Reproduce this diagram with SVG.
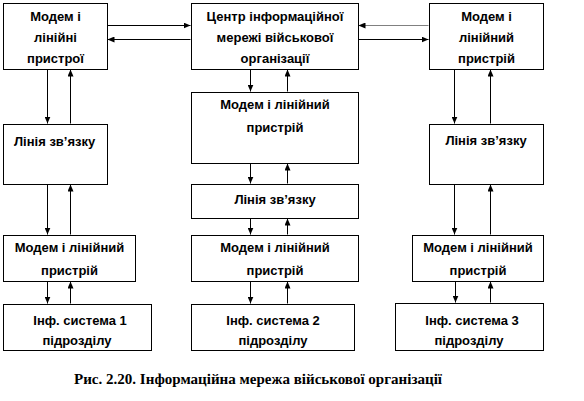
<svg xmlns="http://www.w3.org/2000/svg" width="584" height="401" viewBox="0 0 584 401">
<style>
.box{fill:#fff;stroke:#000;stroke-width:1}
.t{font-family:"Liberation Sans",Arial,sans-serif;font-weight:bold;font-size:13px;fill:#000;text-anchor:middle}
.tl{text-anchor:start}
.c{stroke:#000;stroke-width:1;fill:none}
.g{stroke:#808080}
.cap{font-family:"Liberation Serif","Times New Roman",serif;font-weight:bold;font-size:14px;fill:#000}
</style>
<defs>
<marker id="ah" viewBox="0 0 7 6" refX="7" refY="3" markerWidth="7" markerHeight="6" markerUnits="userSpaceOnUse" orient="auto">
<path d="M0,0 L7,3 L0,6 z" fill="#000"/>
</marker>
</defs>
<rect width="584" height="401" fill="#fff"/>
<g id="connectors">
<line class="c" x1="107.5" y1="25.5" x2="190.5" y2="25.5" marker-end="url(#ah)"/>
<line class="c" x1="190.5" y1="39.5" x2="107.5" y2="39.5" marker-end="url(#ah)"/>
<line class="c g" x1="428.5" y1="25.5" x2="358.5" y2="25.5" marker-end="url(#ah)"/>
<line class="c" x1="358.5" y1="39.5" x2="428.5" y2="39.5" marker-end="url(#ah)"/>
<line class="c" x1="47.5" y1="69.5" x2="47.5" y2="123.5" marker-end="url(#ah)"/>
<line class="c" x1="70.5" y1="123.5" x2="70.5" y2="69.5" marker-end="url(#ah)"/>
<line class="c" x1="47.5" y1="184.5" x2="47.5" y2="234.5" marker-end="url(#ah)"/>
<line class="c" x1="70.5" y1="234.5" x2="70.5" y2="184.5" marker-end="url(#ah)"/>
<line class="c" x1="47.5" y1="281.5" x2="47.5" y2="303.5" marker-end="url(#ah)"/>
<line class="c" x1="70.5" y1="303.5" x2="70.5" y2="281.5" marker-end="url(#ah)"/>
<line class="c" x1="250.5" y1="69.5" x2="250.5" y2="91.5" marker-end="url(#ah)"/>
<line class="c" x1="287.5" y1="91.5" x2="287.5" y2="69.5" marker-end="url(#ah)"/>
<line class="c" x1="250.5" y1="163.5" x2="250.5" y2="183.5" marker-end="url(#ah)"/>
<line class="c" x1="287.5" y1="183.5" x2="287.5" y2="163.5" marker-end="url(#ah)"/>
<line class="c" x1="250.5" y1="218.5" x2="250.5" y2="234.5" marker-end="url(#ah)"/>
<line class="c" x1="287.5" y1="234.5" x2="287.5" y2="218.5" marker-end="url(#ah)"/>
<line class="c" x1="250.5" y1="281.5" x2="250.5" y2="303.5" marker-end="url(#ah)"/>
<line class="c" x1="287.5" y1="303.5" x2="287.5" y2="281.5" marker-end="url(#ah)"/>
<line class="c" x1="454.5" y1="69.5" x2="454.5" y2="123.5" marker-end="url(#ah)"/>
<line class="c" x1="490.5" y1="123.5" x2="490.5" y2="69.5" marker-end="url(#ah)"/>
<line class="c" x1="454.5" y1="184.5" x2="454.5" y2="234.5" marker-end="url(#ah)"/>
<line class="c" x1="490.5" y1="234.5" x2="490.5" y2="184.5" marker-end="url(#ah)"/>
<line class="c" x1="455.5" y1="281.5" x2="455.5" y2="302.5" marker-end="url(#ah)"/>
<line class="c" x1="490.5" y1="302.5" x2="490.5" y2="281.5" marker-end="url(#ah)"/>
</g>
<g id="modem-left-top">
<rect class="box" x="3.5" y="3.5" width="104" height="66"/>
<text class="t" x="55.5" y="21">Модем і</text>
<text class="t" x="55.5" y="42">лінійні</text>
<text class="t" x="55.5" y="63">пристрої</text>
</g>
<g id="center">
<rect class="box" x="191.5" y="3.5" width="167" height="66"/>
<text class="t" x="275" y="21">Центр інформаційної</text>
<text class="t" x="275" y="42">мережі військової</text>
<text class="t" x="275" y="63">організації</text>
</g>
<g id="modem-right-top">
<rect class="box" x="429.5" y="3.5" width="114" height="66"/>
<text class="t" x="486.5" y="21">Модем і</text>
<text class="t" x="486.5" y="42">лінійний</text>
<text class="t" x="486.5" y="63">пристрій</text>
</g>
<g id="line-left">
<rect class="box" x="3.5" y="124.5" width="104" height="60"/>
<text class="t tl" x="14" y="146">Лінія зв’язку</text>
</g>
<g id="modem-center">
<rect class="box" x="191.5" y="92.5" width="167" height="71"/>
<text class="t" x="275" y="109">Модем і лінійний</text>
<text class="t" x="275" y="132">пристрій</text>
</g>
<g id="line-center">
<rect class="box" x="191.5" y="184.5" width="167" height="34"/>
<text class="t" x="275" y="204">Лінія зв’язку</text>
</g>
<g id="line-right">
<rect class="box" x="429.5" y="124.5" width="114" height="60"/>
<text class="t" x="486" y="145">Лінія зв’язку</text>
</g>
<g id="modem-left-bottom">
<rect class="box" x="3.5" y="235.5" width="132" height="46"/>
<text class="t" x="69.5" y="252">Модем і лінійний</text>
<text class="t" x="69.5" y="275">пристрій</text>
</g>
<g id="modem-center-bottom">
<rect class="box" x="191.5" y="235.5" width="167" height="46"/>
<text class="t" x="275" y="252">Модем і лінійний</text>
<text class="t" x="275" y="275">пристрій</text>
</g>
<g id="modem-right-bottom">
<rect class="box" x="412.5" y="235.5" width="131" height="46"/>
<text class="t" x="478" y="252">Модем і лінійний</text>
<text class="t" x="478" y="275">пристрій</text>
</g>
<g id="inf-1">
<rect class="box" x="3.5" y="304.5" width="148" height="46"/>
<text class="t" x="80" y="325">Інф. система 1</text>
<text class="t" x="77" y="345">підрозділу</text>
</g>
<g id="inf-2">
<rect class="box" x="191.5" y="304.5" width="163" height="46"/>
<text class="t" x="273" y="325">Інф. система 2</text>
<text class="t" x="273" y="345">підрозділу</text>
</g>
<g id="inf-3">
<rect class="box" x="395.5" y="303.5" width="148" height="47"/>
<text class="t" x="472" y="325">Інф. система 3</text>
<text class="t" x="469" y="345">підрозділу</text>
</g>
<text class="cap" x="74" y="384" textLength="368" lengthAdjust="spacingAndGlyphs">Рис. 2.20. Інформаційна мережа військової  організації</text>
</svg>
